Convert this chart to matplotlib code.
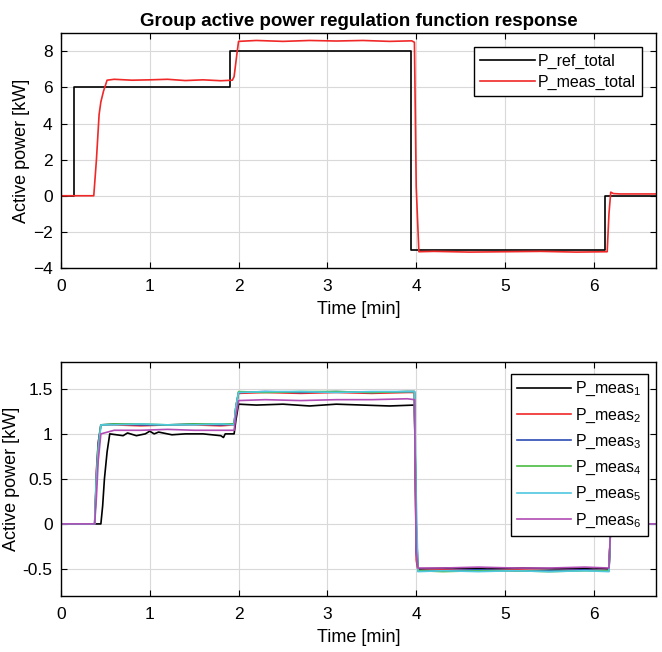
import numpy as np
from matplotlib import pyplot as plt

plt.rcParams['font.family'] = ['Liberation Sans', 'DejaVu Sans']
plt.rcParams['mathtext.fontset'] = 'custom'
plt.rcParams['mathtext.rm'] = 'Liberation Sans'
plt.rcParams['mathtext.it'] = 'Liberation Sans:italic'

# top panel: total reference and measured power [kW] vs time [min]
t_ref = [0, 0.145, 0.145, 1.9, 1.9, 3.94, 3.94, 6.12, 6.12, 6.7]
p_ref = [0, 0, 6, 6, 8, 8, -3, -3, 0, 0]

t_tot = [0, 0.37, 0.40, 0.43, 0.45, 0.48, 0.52, 0.6, 0.8, 1.0, 1.2, 1.4, 1.6, 1.8,
         1.93, 1.95, 1.98, 2.0, 2.2, 2.5, 2.8, 3.1, 3.4, 3.7, 3.95, 3.98, 4.0,
         4.03, 4.2, 4.6, 5.0, 5.4, 5.8, 6.15, 6.17, 6.19, 6.22, 6.3, 6.7]
p_tot = [0, 0, 2.0, 4.5, 5.2, 5.8, 6.4, 6.45, 6.4, 6.42, 6.45, 6.38, 6.42, 6.37,
         6.4, 6.6, 7.8, 8.55, 8.6, 8.55, 8.6, 8.57, 8.6, 8.55, 8.58, 8.5, 0.5,
         -3.1, -3.08, -3.12, -3.1, -3.08, -3.12, -3.1, -1.0, 0.2, 0.12, 0.1, 0.1]

# bottom panel: individual inverters
t_1 = [0, 0.45, 0.47, 0.49, 0.52, 0.55, 0.7, 0.75, 0.85, 0.95, 1.0, 1.05, 1.1,
       1.25, 1.4, 1.6, 1.8, 1.83, 1.85, 1.95, 1.97, 2.0, 2.2, 2.5, 2.8, 3.1,
       3.4, 3.7, 3.98, 4.0, 4.02, 4.4, 4.8, 5.2, 5.6, 6.0, 6.17, 6.19, 6.7]
p_1 = [0, 0, 0.2, 0.5, 0.8, 1.0, 0.98, 1.01, 0.98, 1.0, 1.03, 1.0, 1.02,
       0.99, 1.0, 1.0, 0.98, 0.96, 1.0, 1.0, 1.15, 1.33, 1.32, 1.33, 1.31, 1.33,
       1.32, 1.31, 1.32, 0.0, -0.5, -0.49, -0.5, -0.49, -0.5, -0.49, -0.5, 0, 0]

t_n = [0, 0.38, 0.40, 0.42, 0.45, 0.6, 0.9, 1.2, 1.5, 1.8, 1.95, 1.97, 2.0,
       2.3, 2.7, 3.1, 3.5, 3.9, 3.98, 4.0, 4.02, 4.3, 4.7, 5.1, 5.5, 5.9,
       6.17, 6.19, 6.7]
p_2 = [0, 0, 0.6, 0.9, 1.1, 1.1, 1.09, 1.1, 1.1, 1.09, 1.1, 1.3, 1.45,
       1.46, 1.45, 1.46, 1.45, 1.46, 1.46, -0.4, -0.52, -0.51, -0.52, -0.51, -0.52, -0.51,
       -0.52, 0, 0]
p_3 = [0, 0, 0.55, 0.9, 1.1, 1.11, 1.1, 1.1, 1.11, 1.1, 1.11, 1.3, 1.46,
       1.47, 1.46, 1.47, 1.46, 1.47, 1.47, -0.3, -0.52, -0.52, -0.51, -0.52, -0.52, -0.51,
       -0.52, 0, 0]
p_4 = [0, 0, 0.5, 0.85, 1.1, 1.11, 1.11, 1.1, 1.11, 1.11, 1.11, 1.3, 1.47,
       1.46, 1.47, 1.47, 1.46, 1.47, 1.47, -0.2, -0.52, -0.53, -0.52, -0.52, -0.53, -0.52,
       -0.52, 0, 0]
p_5 = [0, 0, 0.5, 0.8, 1.1, 1.1, 1.11, 1.1, 1.1, 1.11, 1.1, 1.3, 1.46,
       1.47, 1.47, 1.46, 1.47, 1.47, 1.47, 0.3, -0.53, -0.52, -0.53, -0.52, -0.53, -0.52,
       -0.53, 0, 0]
p_6 = [0, 0, 0.3, 0.7, 1.0, 1.04, 1.04, 1.05, 1.04, 1.04, 1.04, 1.2, 1.37,
       1.38, 1.37, 1.38, 1.38, 1.39, 1.38, -0.3, -0.49, -0.49, -0.48, -0.49, -0.49, -0.48,
       -0.49, 0, 0]

fig = plt.figure(figsize=(6.62, 6.52), dpi=100)
ax1 = fig.add_axes([0.092, 0.589, 0.899, 0.360])
ax2 = fig.add_axes([0.092, 0.086, 0.899, 0.359])

ax1.plot(t_ref, p_ref, color='black', lw=1.2, label='P_ref_total')
ax1.plot(t_tot, p_tot, color='#f02828', lw=1.2, label='P_meas_total')
ax1.set_xlim(0, 6.7)
ax1.set_ylim(-4, 9)
ax1.set_yticks([-4, -2, 0, 2, 4, 6, 8])
ax1.set_title('Group active power regulation function response', fontsize=13.5,
              fontweight='bold', pad=5)
ax1.legend(loc='upper right', fontsize=11.5, frameon=True, fancybox=False,
           edgecolor='black', framealpha=1, handlelength=3.4, handletextpad=0.2,
           borderaxespad=0, labelspacing=0.35, bbox_to_anchor=(0.977, 0.94))

colors = ['black', '#f02828', '#2c4cb4', '#4cbc44', '#50c8e0', '#b04cb4']
series = [(t_1, p_1), (t_n, p_2), (t_n, p_3), (t_n, p_4), (t_n, p_5), (t_n, p_6)]
for i, (tt, pp) in enumerate(series):
    ax2.plot(tt, pp, color=colors[i], lw=1.2, label='P_meas$_{%d}$' % (i + 1))
ax2.set_xlim(0, 6.7)
ax2.set_ylim(-0.8, 1.8)
ax2.set_yticks([-0.5, 0, 0.5, 1, 1.5])
ax2.set_yticklabels(['-0.5', '0', '0.5', '1', '1.5'])
ax2.legend(loc='upper right', fontsize=11.5, frameon=True, fancybox=False,
           edgecolor='black', framealpha=1, handlelength=3.4, handletextpad=0.2,
           borderaxespad=0, labelspacing=0.5, bbox_to_anchor=(0.986, 0.95))

for ax in (ax1, ax2):
    ax.set_xticks([0, 1, 2, 3, 4, 5, 6])
    ax.set_xlabel('Time [min]', fontsize=13, labelpad=5)
    ax.set_ylabel('Active power [kW]', fontsize=13, labelpad=2)
    ax.grid(True, color='#d9d9d9', lw=0.8)
    ax.set_axisbelow(True)
    ax.tick_params(direction='in', top=True, right=True, labelsize=12.5, length=4)
    ax.tick_params(axis='x', pad=8)
    ax.tick_params(axis='y', pad=6)
    for s in ax.spines.values():
        s.set_linewidth(1.0)

fig.savefig('out.png', dpi=100)
